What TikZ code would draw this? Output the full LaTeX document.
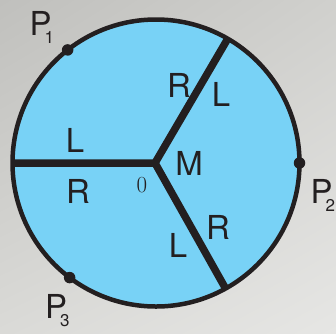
\documentclass[tikz,border=0pt]{standalone}
\usepackage{fontspec}
\usetikzlibrary{shadings}
\newfontfamily\hv{TeX Gyre Heros}
\definecolor{skyfill}{HTML}{78D2F6}
\definecolor{inkc}{HTML}{231F20}
\definecolor{bgul}{HTML}{C0C0BD}
\definecolor{bgur}{HTML}{D0D0CD}
\definecolor{bgll}{HTML}{DADAD7}
\definecolor{bglr}{HTML}{E6E6E4}
\begin{document}
\begin{tikzpicture}[x=1pt,y=-1pt,
  radius line/.style={draw=inkc, line width=7.5pt},
  dotmark/.style={circle, fill=inkc, minimum size=11.5pt, inner sep=0pt},
  side label/.style={font=\hv\fontsize{33}{33}\selectfont, text=inkc, inner sep=0pt},
  point label/.style={font=\hv\fontsize{33}{33}\selectfont, text=inkc, inner sep=0pt, anchor=base west}]
\useasboundingbox (0,0) rectangle (336,333);
\shade[upper left=bgul, upper right=bgur, lower left=bgll, lower right=bglr] (0,0) rectangle (336,333);
\node[circle, draw=inkc, line width=4.5pt, fill=skyfill, minimum size=287pt, inner sep=0pt, outer sep=0pt] (disc) at (156,163) {};
\coordinate (m) at (155,163);
\draw[radius line, line join=miter] (disc.180) -- (m) -- (disc.60);
\draw[radius line] (m) -- (disc.-61);
\node[dotmark] (d1) at (disc.128.5) {};
\node[dotmark] (d2) at (disc.0) {};
\node[dotmark] (d3) at (disc.233.5) {};
\newcommand\subdigit[1]{\kern-7pt\raisebox{-8pt}{\fontsize{17}{17}\selectfont #1}}
\node[point label] (p1) at (29.4,35) {P\subdigit{1}};
\node[point label] (p2) at (310.4,203) {P\subdigit{2}};
\node[point label] (p3) at (44.9,318) {P\subdigit{3}};
\node[side label] (l1) at (75,140) {L};
\node[side label] (r1) at (78,191) {R};
\node[side label] (r2) at (179,85) {R};
\node[side label] (l2) at (221,94) {L};
\node[side label] (r3) at (218,227) {R};
\node[side label] (l3) at (178,245) {L};
\node[side label] (mm) at (189,163) {M};
\node[inner sep=0pt, text=inkc, font=\fontsize{23}{23}\selectfont] (zero) at (142,185) {0};
\end{tikzpicture}
\end{document}
